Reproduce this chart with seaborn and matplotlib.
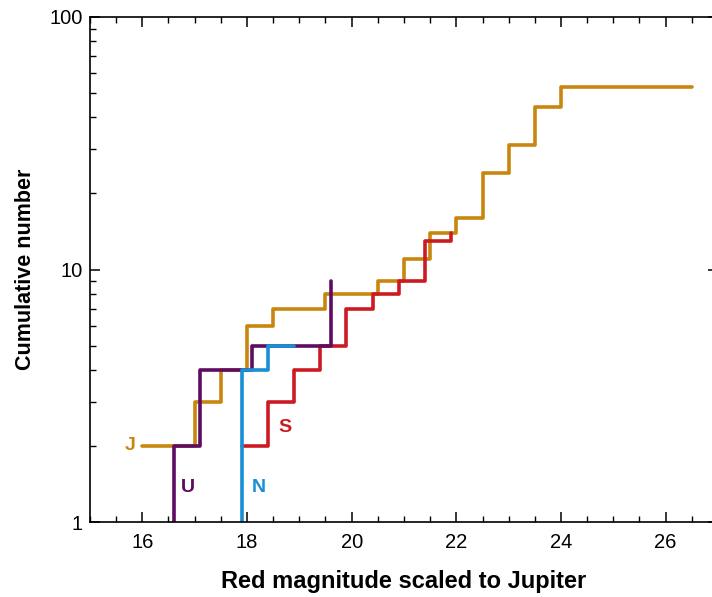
import matplotlib
matplotlib.use("Agg")
import matplotlib.pyplot as plt
from matplotlib.ticker import FixedLocator, LogLocator, MultipleLocator, NullFormatter
import pandas as pd
import seaborn as sns

# cumulative counts of irregular satellites vs red magnitude (step curves)
j_mag = [16.0, 17.0, 17.5, 18.0, 18.5, 19.5, 20.5, 21.0, 21.5, 22.0, 22.5, 23.0, 23.5, 24.0, 26.5]
j_num = [2, 3, 4, 6, 7, 8, 9, 11, 14, 16, 24, 31, 44, 53, 53]

s_mag = [17.9, 18.4, 18.9, 19.4, 19.9, 20.4, 20.9, 21.4, 21.9, 21.9]
s_num = [2, 3, 4, 5, 7, 8, 9, 13, 14, 14]

u_mag = [16.6, 16.6, 17.1, 18.1, 19.6, 19.6]
u_num = [1, 2, 4, 5, 9, 9]

n_mag = [17.9, 17.9, 18.4, 18.9]
n_num = [1, 4, 5, 5]

planets = ["J", "S", "U", "N"]
colors = {"J": "#C8860D", "S": "#CC1A22", "U": "#5E0B62", "N": "#1A8FD6"}
label_pos = {"J": (15.76, 2.0), "S": (18.72, 2.37), "U": (16.87, 1.37), "N": (18.23, 1.37)}

frames = []
for name, mag, num in [("J", j_mag, j_num), ("S", s_mag, s_num), ("U", u_mag, u_num), ("N", n_mag, n_num)]:
    frames.append(pd.DataFrame({"mag": mag, "num": num, "planet": name}))
df = pd.concat(frames, ignore_index=True)

sns.set_style("ticks")
plt.rcParams["font.family"] = ["Liberation Sans", "DejaVu Sans"]
plt.rcParams.update({"text.color": "black", "axes.labelcolor": "black",
                     "xtick.color": "black", "ytick.color": "black"})

fig = plt.figure(figsize=(7.12, 5.97), dpi=100)
ax = fig.add_axes([90 / 712, 75 / 597, 628 / 712, 505 / 597])

sns.lineplot(
    data=df,
    x="mag",
    y="num",
    hue="planet",
    hue_order=planets,
    palette=colors,
    estimator=None,
    sort=False,
    units="planet",
    drawstyle="steps-post",
    linewidth=2.6,
    legend=False,
    ax=ax,
)

for name in planets:
    x, y = label_pos[name]
    ax.text(x, y, name, color=colors[name], fontsize=14, fontweight="bold", ha="center", va="center")

ax.set_yscale("log")
ax.set_ylim(1, 100)
ax.set_xlim(15, 27)
ax.yaxis.set_major_locator(FixedLocator([1, 10, 100]))
ax.yaxis.set_major_formatter(plt.FuncFormatter(lambda v, p: f"{v:g}"))
ax.yaxis.set_minor_locator(LogLocator(base=10, subs=range(2, 10)))
ax.yaxis.set_minor_formatter(NullFormatter())
ax.xaxis.set_major_locator(MultipleLocator(2))
ax.xaxis.set_minor_locator(MultipleLocator(0.5))

for side in ["top", "right", "bottom", "left"]:
    ax.spines[side].set_visible(True)
    ax.spines[side].set_linewidth(1.2)
    ax.spines[side].set_color("black")
ax.tick_params(which="both", direction="in", top=True, right=True, labelsize=14.5)
ax.tick_params(axis="x", pad=8)
ax.tick_params(axis="y", pad=5)
ax.tick_params(which="major", length=7, width=1.1)
ax.tick_params(which="minor", length=4, width=1.0)

ax.set_xlabel("Red magnitude scaled to Jupiter", fontsize=17, fontweight="bold", labelpad=13)
ax.set_ylabel("Cumulative number", fontsize=15.5, fontweight="bold", labelpad=10)

fig.savefig("out.png", dpi=100)
